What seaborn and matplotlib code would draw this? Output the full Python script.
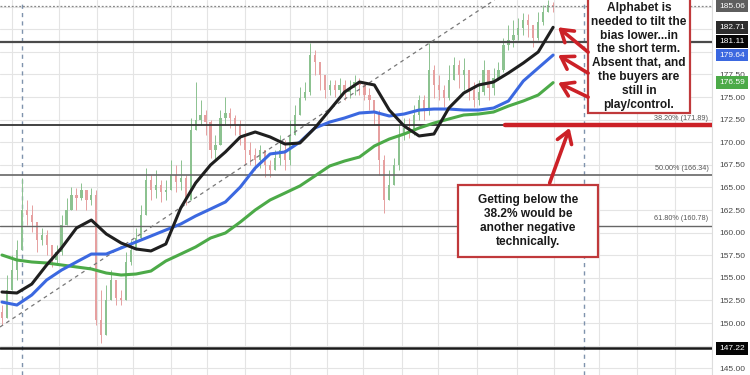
"""Alphabet hourly chart: candles, three moving averages, fib levels and notes"""
import numpy as np
import pandas as pd
import matplotlib
matplotlib.use("Agg")
import matplotlib.pyplot as plt
from matplotlib.patches import Rectangle
import seaborn as sns

# Candle data (one value per bar)
first_open = 151.2
closes = [150.55, 153.65, 155.86, 158.08, 162.50, 161.95, 161.17, 159.18, 159.73, 158.63,
          156.97, 157.85, 160.84, 162.50, 164.16, 163.83, 164.71, 163.61, 164.16, 150.33,
          148.67, 152.54, 154.76, 152.77, 152.54, 156.75, 158.08, 159.40, 161.95, 165.82,
          164.71, 165.26, 164.49, 164.71, 166.37, 165.60, 166.04, 163.61, 171.35, 172.46,
          173.01, 172.23, 169.14, 169.69, 172.68, 173.23, 172.68, 171.90, 170.80, 169.14,
          168.58, 168.03, 169.14, 167.48, 166.92, 168.25, 169.14, 168.03, 170.80, 173.01,
          174.89, 175.55, 179.65, 178.87, 177.43, 175.77, 176.33, 175.77, 176.33, 175.55,
          176.00, 176.66, 176.33, 175.22, 174.67, 173.34, 168.03, 163.61, 165.26, 167.48,
          170.80, 171.57, 171.13, 173.01, 174.67, 173.56, 177.99, 176.33, 175.77, 174.89,
          176.88, 178.54, 177.43, 177.99, 175.77, 174.67, 175.55, 177.99, 176.00, 177.10,
          177.99, 180.75, 181.31, 181.86, 182.63, 183.52, 182.96, 181.53, 183.30, 184.40,
          185.18, 185.06]
highs = [151.99, 155.31, 157.52, 159.18, 166.04, 163.61, 163.05, 160.84, 160.51, 160.29,
         158.08, 158.63, 161.95, 163.83, 165.04, 164.93, 165.49, 164.71, 164.93, 164.71,
         153.65, 154.20, 155.86, 154.76, 153.65, 157.85, 159.18, 160.51, 163.05, 167.15,
         166.37, 166.92, 165.82, 165.82, 168.03, 167.48, 168.03, 166.37, 172.68, 176.66,
         174.67, 173.56, 172.46, 170.80, 173.56, 175.00, 173.78, 173.01, 172.46, 171.35,
         170.02, 169.36, 169.69, 169.14, 168.03, 169.14, 170.80, 170.24, 172.46, 174.12,
         176.11, 176.66, 180.97, 180.20, 178.87, 177.10, 176.88, 176.88, 177.10, 176.88,
         176.88, 177.43, 177.10, 176.66, 176.00, 174.67, 173.56, 168.58, 166.92, 168.25,
         171.90, 172.68, 172.68, 174.12, 175.22, 175.22, 180.97, 178.54, 177.43, 176.33,
         178.54, 179.42, 179.09, 179.31, 177.43, 176.66, 176.88, 179.09, 177.43, 178.21,
         178.87, 181.53, 182.96, 183.52, 183.74, 184.29, 184.18, 182.96, 184.40, 185.18,
         185.73, 185.51]
lows = [149.78, 152.54, 153.65, 154.76, 158.08, 160.84, 160.07, 157.85, 158.63, 157.52,
        156.20, 156.42, 157.52, 160.84, 162.50, 162.50, 163.61, 162.50, 163.05, 149.78,
        147.79, 150.33, 152.54, 151.99, 151.99, 155.86, 156.42, 158.30, 159.18, 163.05,
        163.61, 163.83, 163.39, 163.61, 165.26, 164.49, 164.71, 163.05, 163.61, 171.35,
        171.90, 170.80, 168.25, 168.03, 169.69, 171.90, 171.57, 170.80, 169.69, 167.48,
        167.48, 166.92, 167.15, 166.15, 166.15, 167.15, 167.48, 166.92, 167.48, 171.35,
        173.56, 174.67, 175.22, 177.43, 175.77, 174.89, 175.22, 175.00, 175.22, 174.67,
        174.89, 175.22, 175.22, 174.67, 173.56, 171.90, 166.37, 162.17, 163.61, 166.37,
        166.92, 170.24, 170.46, 170.80, 172.46, 172.46, 173.01, 174.89, 174.67, 173.89,
        174.67, 176.88, 176.00, 175.77, 174.67, 173.89, 174.12, 175.22, 174.67, 175.22,
        176.88, 177.77, 180.20, 180.53, 181.31, 181.86, 181.64, 180.53, 181.31, 182.96,
        184.40, 184.40]

# Moving averages, sampled every third bar
ma_bars = list(range(0, 112, 3))
ma_black = [153.43, 153.32, 154.31, 156.42, 158.30, 160.51, 161.39, 159.85, 158.85, 158.19,
            157.97, 158.74, 162.72, 165.49, 167.48, 168.92, 170.58, 171.13, 170.58, 169.80,
            169.91, 171.57, 173.56, 175.55, 176.66, 176.33, 173.56, 171.79, 170.69, 170.91,
            173.78, 175.44, 176.33, 176.66, 177.66, 178.76, 179.98, 182.71]
ma_blue = [152.32, 151.99, 153.10, 154.76, 155.86, 156.75, 157.63, 157.63, 158.30, 158.96,
           159.62, 160.29, 160.95, 161.84, 162.61, 163.39, 165.04, 167.15, 168.70, 168.92,
           170.02, 171.57, 172.23, 172.68, 173.23, 173.34, 172.90, 173.12, 173.56, 173.67,
           173.67, 173.56, 173.56, 173.78, 174.56, 176.77, 178.21, 179.64]
ma_green = [157.52, 156.97, 156.75, 156.64, 156.42, 156.20, 155.98, 155.53, 155.31, 155.42,
            155.75, 156.86, 157.63, 158.41, 159.40, 159.96, 161.17, 162.50, 163.61, 164.38,
            165.16, 166.26, 167.37, 167.92, 168.36, 169.58, 170.35, 170.91, 171.57, 172.12,
            172.57, 173.01, 173.12, 173.34, 174.00, 174.56, 175.22, 176.59]

# Levels
fib_levels = [171.89, 166.34, 160.78]
fib_names = ["38.20%", "50.00%", "61.80%"]
swing_levels = [181.11, 147.22]
last_price = 185.06
trend_pts = [(-0.4, 149.56), (98.9, 185.62)]
session_bars = [4.0, 117.2]
grid_bars = [2.0, 11.5, 19.1, 26.4, 34.0, 41.3, 49.0, 58.0, 65.5, 72.7, 80.6, 87.8,
             95.7, 103.7, 111.2, 120.3, 127.9, 135.6, 143.0]
y_ticks = np.arange(145.0, 185.1, 2.5)

note_top = ("Alphabet is\nneeded to tilt the\nbias lower...in\nthe short term.\n"
            "Absent that, and\nthe buyers are\nstill in\nplay/control.")
note_bottom = "Getting below the\n38.2% would be\nanother negative\ntechnically."

RED = "#cc2127"
BLACK_MA = "#1f1f1f"
BLUE_MA = "#3b68e0"
GREEN_MA = "#4caa48"

sns.set_theme(style="whitegrid")
plt.rcParams["font.family"] = ["Liberation Sans", "DejaVu Sans"]

fig = plt.figure(figsize=(7.5, 3.75), dpi=100)
ax = fig.add_axes([0, 0, 712 / 750, 1])

# candles
c = np.array(closes)
o = np.concatenate([[first_open], c[:-1]])
h = np.maximum.reduce([np.array(highs), o, c])
l = np.minimum.reduce([np.array(lows), o, c])
bars = np.arange(len(c))
up = c >= o
colors = np.where(up, "#8cc290", "#e6a0a0")
ax.vlines(bars, l, h, colors=colors, linewidth=0.7, zorder=2)
ax.bar(bars, np.maximum(np.abs(c - o), 0.12), bottom=np.minimum(o, c), width=0.45,
       color=colors, linewidth=0, zorder=2)

# moving averages via seaborn
ma_df = pd.DataFrame({
    "bar": ma_bars * 3,
    "value": ma_green + ma_blue + ma_black,
    "ma": ["green"] * len(ma_bars) + ["blue"] * len(ma_bars) + ["black"] * len(ma_bars),
})
sns.lineplot(data=ma_df, x="bar", y="value", hue="ma", hue_order=["green", "blue", "black"],
             palette={"green": GREEN_MA, "blue": BLUE_MA, "black": BLACK_MA},
             linewidth=2.2, legend=False, ax=ax, zorder=4)

# horizontal levels
ax.axhline(swing_levels[0], color="#4a4a4a", linewidth=1.6, zorder=3)
ax.axhline(swing_levels[1], color="#1a1a1a", linewidth=1.8, zorder=3)
for lvl, w, col in zip(fib_levels, [1.3, 1.2, 1.0], ["#333333", "#666666", "#666666"]):
    ax.axhline(lvl, color=col, linewidth=w, zorder=3)
for lvl, name in zip(fib_levels, fib_names):
    ax.text(0.995, lvl + 0.35, f"{name} ({lvl:.2f})", transform=ax.get_yaxis_transform(),
            ha="right", va="bottom", fontsize=5.2, color="#555555", zorder=5)
ax.axhline(last_price, color="#888888", linewidth=0.9, linestyle=(0, (1.5, 1.5)), zorder=3)
for b in session_bars:
    ax.axvline(b, color="#7f93ad", linewidth=1.0, linestyle=(0, (3, 3)), zorder=1)
ax.axline(trend_pts[0], trend_pts[1], color="#777777", linewidth=0.9,
          linestyle=(0, (3, 3)), zorder=3)

# red 38.2% highlight line
ax.axhline(fib_levels[0], xmin=505 / 712, xmax=1, color=RED, linewidth=3.2, zorder=6)

# notes and arrows
ax.add_patch(Rectangle((0.826, 0.699), 0.143, 0.33, transform=ax.transAxes, facecolor="white",
                       edgecolor="#c0393b", linewidth=1.6, zorder=7, clip_on=False))
ax.text(0.8975, 0.8496, note_top, transform=ax.transAxes, ha="center", va="center",
        fontsize=8.6, fontweight="bold", color="#1a1a1a", linespacing=1.2, zorder=8)
ax.add_patch(Rectangle((0.643, 0.315), 0.197, 0.192, transform=ax.transAxes, facecolor="white",
                       edgecolor="#c0393b", linewidth=1.6, zorder=7))
ax.text(0.7416, 0.411, note_bottom, transform=ax.transAxes, ha="center", va="center",
        fontsize=8.6, fontweight="bold", color="#1a1a1a", linespacing=1.2, zorder=8)

arrow = dict(arrowstyle="->,head_length=0.7,head_width=0.45", color=RED, lw=2.6,
             shrinkA=0, shrinkB=0)
tails = [(0.826, 0.861), (0.826, 0.805), (0.826, 0.741)]
for tail, ma in zip(tails, [ma_black, ma_blue, ma_green]):
    ax.annotate("", xy=(ma_bars[-1] + 1, ma[-1]), xycoords="data",
                xytext=tail, textcoords="axes fraction", arrowprops=arrow, zorder=9)
ax.annotate("", xy=(0.80, 0.659), xycoords="axes fraction",
            xytext=(0.772, 0.512), textcoords="axes fraction", arrowprops=arrow, zorder=9)

# value tags on the price scale
tags = [(last_price, "#5e5e5e"), (ma_black[-1], "#2c2c2c"), (swing_levels[0], "#050505"),
        (ma_blue[-1], BLUE_MA), (ma_green[-1], GREEN_MA), (swing_levels[1], "#050505")]
for val, col in tags:
    ax.annotate(f"{val:.2f}", xy=(1, val), xycoords=ax.get_yaxis_transform(),
                xytext=(5.2, 0), textcoords="offset points", ha="left", va="center",
                fontsize=6, color="white", annotation_clip=False,
                bbox=dict(boxstyle="square,pad=0.35", fc=col, ec="none"), zorder=10)

# axes, grid and price scale
ax.set_xlim(-0.4, 143.0)
ax.set_ylim(144.25, 185.73)
ax.set_xticks(grid_bars)
ax.set_xticklabels([])
ax.set_yticks(y_ticks)
ax.set_yticklabels([f"{v:.2f}" if v <= 177.5 else "" for v in y_ticks])
ax.yaxis.tick_right()
ax.tick_params(axis="y", length=0, pad=5, labelsize=6, labelcolor="#4a4a4a")
ax.tick_params(axis="x", length=0)
ax.grid(True, color="#e4e4e4", linewidth=0.8)
ax.set_xlabel("")
ax.set_ylabel("")
for side in ["top", "left", "bottom"]:
    ax.spines[side].set_visible(False)
ax.spines["right"].set_color("#dddddd")
ax.spines["right"].set_linewidth(0.8)

fig.savefig("out.png", dpi=100)
